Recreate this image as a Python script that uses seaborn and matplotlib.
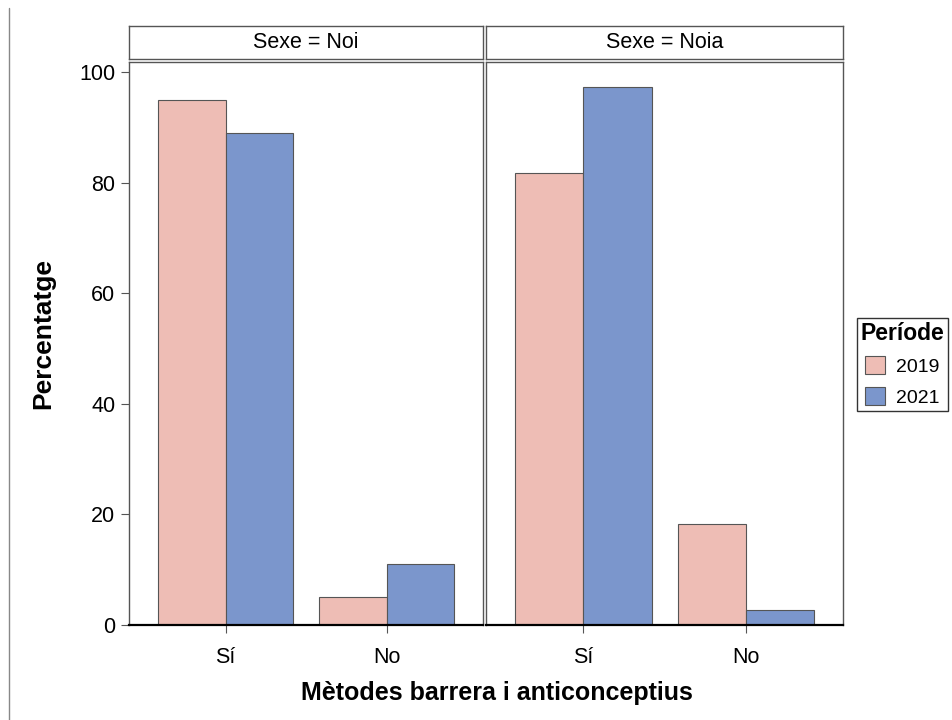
import pandas as pd
import numpy as np
import matplotlib.pyplot as plt
import seaborn as sns
from matplotlib.lines import Line2D
from matplotlib.patches import Patch

# Data
sexes = ['Noi', 'Noia']
categories = ['Sí', 'No']
periods = ['2019', '2021']
noi_2019 = [95.0, 5.0]
noi_2021 = [89.0, 11.0]
noia_2019 = [81.8, 18.2]
noia_2021 = [97.3, 2.7]

rows = []
for sexe, v19, v21 in [('Noi', noi_2019, noi_2021), ('Noia', noia_2019, noia_2021)]:
    for cat, a, b in zip(categories, v19, v21):
        rows.append({'Sexe': sexe, 'Metode': cat, 'Periode': '2019', 'Pct': a})
        rows.append({'Sexe': sexe, 'Metode': cat, 'Periode': '2021', 'Pct': b})
df = pd.DataFrame(rows)

sns.set_theme(style='white')
plt.rcParams['font.family'] = ['Liberation Sans', 'DejaVu Sans']
plt.rcParams['text.color'] = 'black'
plt.rcParams['xtick.color'] = 'black'
plt.rcParams['ytick.color'] = 'black'
plt.rcParams['axes.labelcolor'] = 'black'

colors = {'2019': '#EEBDB5', '2021': '#7B96CC'}
edge = '#555555'

fig = plt.figure(figsize=(9.53, 7.2), dpi=100)

# panel positions (figure fractions)
panels = [(0.1354, 0.3715), (0.5100, 0.3746)]
bottom, height = 0.1319, 0.7820
strip_bottom, strip_h = 0.918, 0.0458

axes = []
for i, (sexe, (left, width)) in enumerate(zip(sexes, panels)):
    ax = fig.add_axes([left, bottom, width, height])
    sub = df[df['Sexe'] == sexe]
    sns.barplot(data=sub, x='Metode', y='Pct', hue='Periode', order=categories,
                hue_order=periods, palette=colors, width=0.84, gap=0,
                edgecolor=edge, linewidth=0.8, saturation=1, legend=False, ax=ax)
    ax.set_xlim(-0.6, 1.6)
    ax.set_ylim(0, 101.8)
    ax.set_xlabel('')
    ax.set_ylabel('')
    for s in ['top', 'left', 'right']:
        ax.spines[s].set_color(edge)
        ax.spines[s].set_linewidth(1.0)
    ax.spines['bottom'].set_color('black')
    ax.spines['bottom'].set_linewidth(1.6)
    ax.tick_params(axis='x', bottom=True, length=6, width=0.8, color=edge,
                   labelsize=15.5, pad=10)
    ax.set_yticks([0, 20, 40, 60, 80, 100])
    if i == 0:
        ax.tick_params(axis='y', left=True, length=6, width=0.8, color=edge,
                       labelsize=15.5, pad=4)
    else:
        ax.set_yticklabels([])
        ax.tick_params(axis='y', left=False)
    # strip header
    sax = fig.add_axes([left, strip_bottom, width, strip_h])
    sax.set_xticks([])
    sax.set_yticks([])
    for s in sax.spines.values():
        s.set_color(edge)
        s.set_linewidth(1.0)
    sax.text(0.5, 0.5, f'Sexe = {sexe}', ha='center', va='center', fontsize=15.5,
             transform=sax.transAxes)
    axes.append(ax)

fig.text(0.045, 0.537, 'Percentatge', rotation=90, ha='center', va='center',
         fontsize=19, fontweight='bold')
fig.text(0.521, 0.037, 'Mètodes barrera i anticonceptius', ha='center', va='center',
         fontsize=18, fontweight='bold')

# legend
handles = [Patch(facecolor=colors[p], edgecolor=edge, linewidth=0.8, label=p) for p in periods]
leg = fig.legend(handles=handles, title='Període', loc='center left',
                 bbox_to_anchor=(0.899, 0.494), fontsize=14, title_fontsize=16.5,
                 frameon=True, fancybox=False, edgecolor='black',
                 handlelength=1.0, handleheight=1.0, handletextpad=0.6,
                 borderpad=0.2, labelspacing=0.6, borderaxespad=0)
leg.get_title().set_fontweight('bold')
leg.get_frame().set_linewidth(1.0)

# thin vertical rule at left edge
fig.add_artist(Line2D([0.0094, 0.0094], [0.0, 0.989], color='#888888', linewidth=1.0))

fig.savefig('out.png', dpi=100)
